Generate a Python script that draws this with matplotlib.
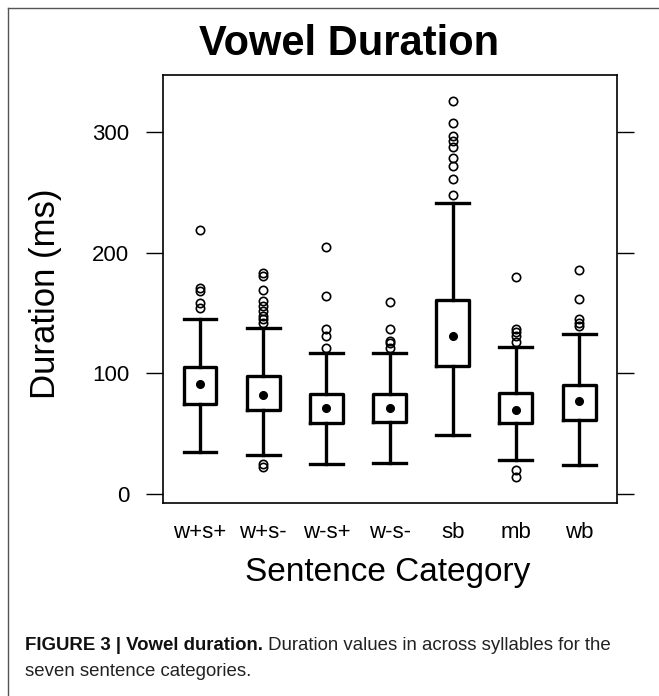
import matplotlib
matplotlib.use("Agg")
import matplotlib.pyplot as plt
from matplotlib.lines import Line2D

categories = ["w+s+", "w+s-", "w-s+", "w-s-", "sb", "mb", "wb"]
whislo = [35, 32, 25, 26, 49, 28, 24]
q1 = [75, 70, 59, 60, 106, 59, 61]
med = [91, 82, 71, 71, 131, 70, 77]
q3 = [105, 98, 83, 83, 161, 84, 90]
whishi = [145, 138, 117, 117, 241, 122, 133]
fliers = [
    [219, 171, 168, 158, 154],
    [183, 181, 169, 160, 156, 152, 148, 145, 142, 25, 22],
    [205, 164, 137, 131, 121],
    [159, 137, 127, 125, 121],
    [326, 308, 297, 293, 288, 279, 272, 261, 248],
    [180, 137, 134, 131, 126, 20, 14],
    [186, 162, 145, 142, 139],
]
yticks = [0, 100, 200, 300]

W, H = 659, 696
fig = plt.figure(figsize=(W / 100, H / 100), dpi=100)
plt.rcParams["font.family"] = ["Liberation Sans", "DejaVu Sans"]

ax = fig.add_axes([163 / W, 1 - 503 / H, (617 - 163) / W, (503 - 75) / H])

stats = []
for i in range(len(categories)):
    stats.append(dict(whislo=whislo[i], q1=q1[i], med=med[i], q3=q3[i],
                      whishi=whishi[i], fliers=fliers[i], mean=med[i],
                      label=categories[i]))

lw = 2.4
ax.bxp(stats, positions=range(1, 8), widths=0.52, showmeans=True,
       boxprops=dict(linewidth=lw, color="black"),
       whiskerprops=dict(linewidth=lw, color="black"),
       capprops=dict(linewidth=lw, color="black"),
       capwidths=0.52,
       medianprops=dict(linewidth=0),
       meanprops=dict(marker="o", markerfacecolor="black", markeredgecolor="black",
                      markersize=5.5),
       flierprops=dict(marker="o", markerfacecolor="none", markeredgecolor="black",
                       markersize=6, markeredgewidth=1.2))

ax.set_xlim(0.414, 7.6)
ax.set_ylim(-7.5, 347.5)
ax.set_yticks(yticks)
ax.set_yticklabels([str(v) for v in yticks], fontsize=16)
ax.tick_params(axis="y", which="both", length=12.2, width=1.0, pad=12,
               right=True, labelright=False, direction="out")
ax.tick_params(axis="x", length=0, pad=14, labelsize=16)
for s in ax.spines.values():
    s.set_linewidth(1.2)

fig.text(349 / W, 1 - 55 / H, "Vowel Duration", fontsize=30, fontweight="bold",
         ha="center", va="baseline")
fig.text(388 / W, 1 - 581 / H, "Sentence Category", fontsize=24,
         ha="center", va="baseline")
fig.text(46 / W, 1 - 294 / H, "Duration (ms)", fontsize=25, rotation=90,
         ha="center", va="center")

# outer frame (left and top edges)
fig.add_artist(Line2D([8 / W, 8 / W], [0, 1 - 8 / H], transform=fig.transFigure,
                      color="#555555", linewidth=1.0))
fig.add_artist(Line2D([8 / W, 1], [1 - 8 / H, 1 - 8 / H], transform=fig.transFigure,
                      color="#555555", linewidth=1.0))

# caption
cap_font = ["Liberation Sans", "DejaVu Sans"]
cap_size = 13.4
t1 = fig.text(25 / W, 1 - 650 / H, "FIGURE 3 | Vowel duration.", fontsize=cap_size,
              fontweight="bold", family=cap_font, ha="left", va="baseline", color="#111111")
fig.canvas.draw()
bb = t1.get_window_extent()
fig.text(bb.x1 / W, 1 - 650 / H, " Duration values in across syllables for the",
         fontsize=cap_size, family=cap_font, ha="left", va="baseline", color="#222222")
fig.text(25 / W, 1 - 676 / H, "seven sentence categories.", fontsize=cap_size,
         family=cap_font, ha="left", va="baseline", color="#222222")

fig.savefig("out.png", dpi=100)
